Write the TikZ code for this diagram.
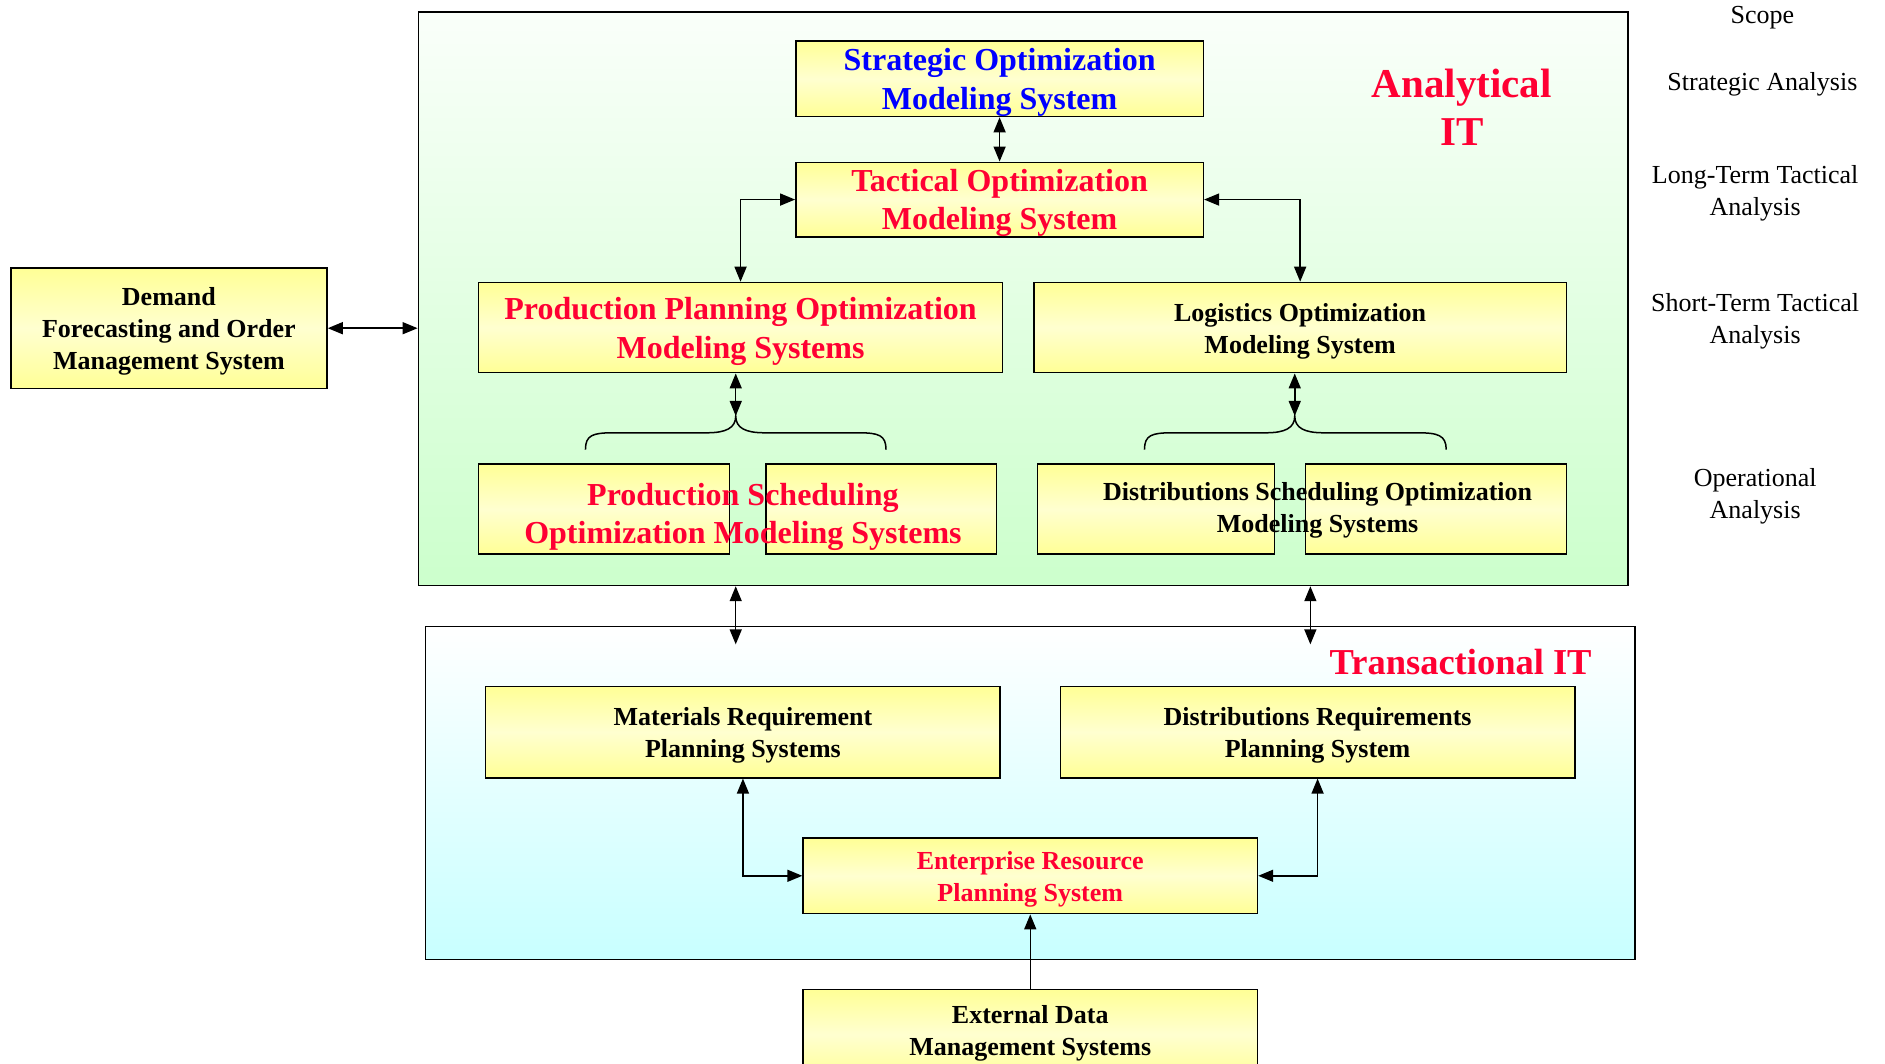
\documentclass[tikz,border=0pt]{standalone}
\usepackage{fontspec}
\setmainfont{Liberation Serif}
\usetikzlibrary{arrows.meta}
\definecolor{itred}{RGB}{255,0,51}
\definecolor{itblue}{RGB}{0,0,255}
\definecolor{yTop}{RGB}{255,255,150}
\definecolor{yMid}{RGB}{255,255,208}
\definecolor{anaTop}{RGB}{250,255,250}
\definecolor{anaBot}{RGB}{204,255,204}
\definecolor{trTop}{RGB}{255,255,255}
\definecolor{trBot}{RGB}{200,255,255}
\newcommand{\bigtxt}{\fontsize{32}{38.5}\selectfont\bfseries}
\newcommand{\midtxt}{\fontsize{26}{32}\selectfont\bfseries}
\newcommand{\scopetxt}{\fontsize{26}{32}\selectfont}
\tikzset{
  ybox/.style={draw=black, line width=1.5pt, inner sep=0pt,
    top color=yTop, bottom color=yTop, middle color=yMid},
  boxtext/.style={align=center, inner sep=0pt},
  anabox/.style={draw=black, line width=1.5pt, inner sep=0pt,
    top color=anaTop, bottom color=anaBot},
  trbox/.style={draw=black, line width=1.5pt, inner sep=0pt,
    top color=trTop, bottom color=trBot},
  tip/.tip={Triangle[length=15pt,width=12pt]},
  link/.style={line width=1.5pt, tip-tip},
  uplink/.style={line width=1.5pt, -tip},
  brace/.style={line width=1.5pt},
  scopelbl/.style={align=center, font=\scopetxt, inner sep=0pt},
}
\begin{document}
\begin{tikzpicture}[x=1.2022pt, y=-1.2022pt]
\useasboundingbox (0,0) rectangle (1568,885);

% layer containers
\node[anabox, minimum width=1209.4pt, minimum height=573.5pt] (ana) at (851,248.5) {};
\node[trbox, minimum width=1209.4pt, minimum height=333pt] (tr) at (857,659.5) {};

% analytical systems
\node[ybox, minimum width=407.5pt, minimum height=75.7pt] (str) at (831.5,65.5) {};
\node[boxtext, font=\bigtxt, text=itblue] (strtxt) at ([yshift=-3.6pt]str.center)
  {Strategic Optimization\\Modeling System};
\node[ybox, minimum width=407.5pt, minimum height=74.5pt] (tac) at (831.5,166) {};
\node[boxtext, font=\bigtxt, text=itred] (tactxt) at ([yshift=-3.6pt]tac.center)
  {Tactical Optimization\\Modeling System};
\node[ybox, minimum width=524.2pt, minimum height=90.2pt] (pp) at (616,272.5) {};
\node[boxtext, font=\bigtxt, text=itred] (pptxt) at ([yshift=-3.6pt]pp.center)
  {Production Planning Optimization\\Modeling Systems};
\node[ybox, minimum width=532.6pt, minimum height=90.2pt] (log) at (1081.5,272.5) {};
\node[boxtext, font=\midtxt] (logtxt) at ([yshift=-3.6pt]log.center)
  {Logistics Optimization\\Modeling System};

\node[ybox, minimum width=251.3pt, minimum height=90.2pt] (psa) at (502.5,423.5) {};
\node[ybox, minimum width=230.8pt, minimum height=90.2pt] (psb) at (733,423.5) {};
\node[boxtext, font=\bigtxt, text=itred] (pstxt) at (618,430)
  {Production Scheduling\\Optimization Modeling Systems};

\node[ybox, minimum width=236.8pt, minimum height=90.2pt] (dsa) at (961.5,423.5) {};
\node[ybox, minimum width=260.9pt, minimum height=90.2pt] (dsb) at (1194.5,423.5) {};
\node[boxtext, font=\midtxt] (dstxt) at (1096,424.5)
  {Distributions Scheduling Optimization\\Modeling Systems};

\node[boxtext, font=\fontsize{41}{48}\selectfont\bfseries, text=itred] (anatitle) at (1216,89)
  {Analytical\\IT};

% demand system
\node[ybox, minimum width=316.2pt, minimum height=120.2pt] (dem) at (140.5,273) {};
\node[boxtext, font=\midtxt] (demtxt) at ([yshift=-3.6pt]dem.center)
  {Demand\\Forecasting and Order\\Management System};

% transactional systems
\node[font=\fontsize{36.5}{43}\selectfont\bfseries, text=itred, inner sep=0pt] (trtitle) at (1215,551) {Transactional IT};
\node[ybox, minimum width=514.5pt, minimum height=91.4pt] (mrp) at (618,609) {};
\node[boxtext, font=\midtxt] (mrptxt) at ([yshift=-3.6pt]mrp.center)
  {Materials Requirement\\Planning Systems};
\node[ybox, minimum width=514.5pt, minimum height=91.4pt] (drp) at (1096,609) {};
\node[boxtext, font=\midtxt] (drptxt) at ([yshift=-3.6pt]drp.center)
  {Distributions Requirements\\Planning System};
\node[ybox, minimum width=454.4pt, minimum height=75.7pt] (erp) at (857,728.5) {};
\node[boxtext, font=\midtxt, text=itred] (erptxt) at ([yshift=-3.6pt]erp.center)
  {Enterprise Resource\\Planning System};
\node[ybox, minimum width=454.4pt, minimum height=90pt] (ext) at (857,860.5) {};
\node[boxtext, font=\midtxt] (exttxt) at (857,859.5)
  {External Data\\Management Systems};

% scope column
\node[scopelbl] (sc0) at (1466,15) {Scope};
\node[scopelbl] (sc1) at (1466,70.5) {Strategic Analysis};
\node[scopelbl] (sc2) at (1460,160.5) {Long-Term Tactical\\Analysis};
\node[scopelbl] (sc3) at (1460,267) {Short-Term Tactical\\Analysis};
\node[scopelbl] (sc4) at (1460,412.5) {Operational\\Analysis};

% braces grouping the scheduling systems
\coordinate (pbtip) at (612,346);
\coordinate (dbtip) at (1077,346);
\draw[brace] (487,374) .. controls (487,362) and (493,360) .. (510,360) -- (588,360)
  .. controls (604,360) and (612,356) .. (pbtip)
  .. controls (612,356) and (620,360) .. (636,360) -- (714,360)
  .. controls (731,360) and (737,362) .. (737,374);
\draw[brace] (952,374) .. controls (952,362) and (958,360) .. (975,360) -- (1053,360)
  .. controls (1069,360) and (1077,356) .. (dbtip)
  .. controls (1077,356) and (1085,360) .. (1101,360) -- (1179,360)
  .. controls (1196,360) and (1203,362) .. (1203,374);

% connectors
\draw[link] (str.south) -- (tac.north);
\draw[link] (tac.west) -| (pp.north);
\draw[link] (tac.east) -| (log.north);
\draw[link] (pbtip |- pp.south) -- (pbtip);
\draw[link] (dbtip |- log.south) -- (dbtip);
\draw[link] (dem.east) -- (dem.east -| ana.west);

\coordinate (ta1) at (612,536);
\coordinate (ta2) at (1090,536);
\draw[link] (ta1 |- ana.south) -- (ta1);
\draw[link] (ta2 |- ana.south) -- (ta2);

\draw[link] (mrp.south) |- (erp.west);
\draw[link] (drp.south) |- (erp.east);
\draw[uplink] (ext.north) -- (erp.south);
\end{tikzpicture}
\end{document}
